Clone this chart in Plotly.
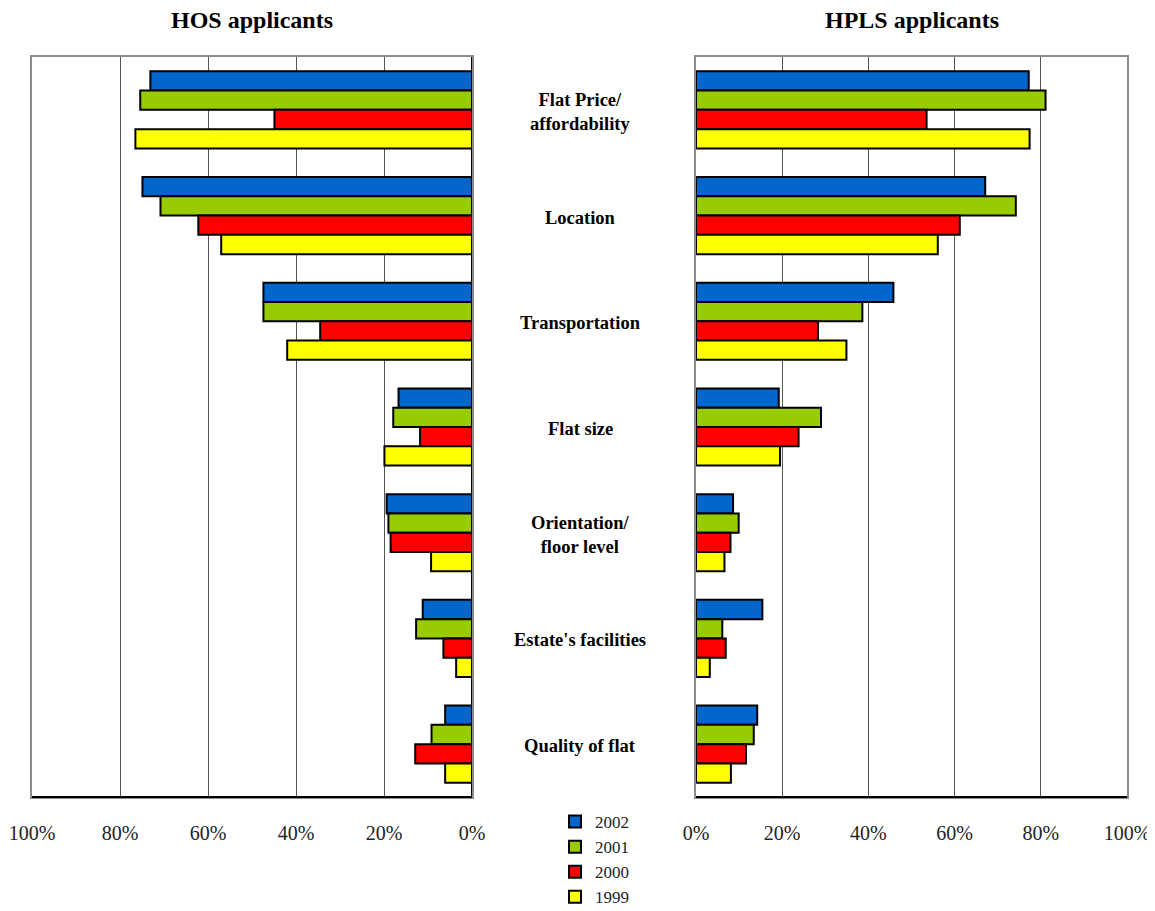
import plotly.graph_objects as go

categories = ["Flat Price/<br>affordability", "Location", "Transportation", "Flat size",
              "Orientation/<br>floor level", "Estate's facilities", "Quality of flat"]
years = ["2002", "2001", "2000", "1999"]
colors = ["#0066CC", "#99CC00", "#FF0000", "#FFFF00"]

hos_2002 = [73.1, 74.9, 47.4, 16.7, 19.4, 11.2, 6.1]
hos_2001 = [75.4, 70.8, 47.4, 17.9, 19.0, 12.7, 9.2]
hos_2000 = [44.9, 62.2, 34.5, 11.8, 18.5, 6.5, 12.9]
hos_1999 = [76.5, 57.0, 42.0, 19.9, 9.3, 3.6, 6.1]

hpls_2002 = [77.2, 67.1, 45.8, 19.2, 8.6, 15.4, 14.2]
hpls_2001 = [81.1, 74.2, 38.6, 29.0, 9.9, 6.1, 13.4]
hpls_2000 = [53.5, 61.2, 28.3, 23.8, 8.0, 6.9, 11.6]
hpls_1999 = [77.4, 56.1, 34.9, 19.5, 6.6, 3.2, 8.1]

hos = [hos_2002, hos_2001, hos_2000, hos_1999]
hpls = [hpls_2002, hpls_2001, hpls_2000, hpls_1999]

tickvals = [0, 20, 40, 60, 80, 100]
ticktext = ["0%", "20%", "40%", "60%", "80%", "100%"]

OFF = 8  # page body margin
W, H = 1155 - OFF, 911 - OFF
SERIF = "'Liberation Serif', 'Times New Roman', 'DejaVu Serif', serif"


def px(x):
    return (x - OFF) / W


def py(y):
    return 1 - (y - OFF) / H


fig = go.Figure()
for yr, col, vals in zip(years, colors, hos):
    fig.add_trace(go.Bar(y=categories, x=vals, orientation="h", name=yr,
                         marker=dict(color=col, line=dict(color="black", width=2)),
                         xaxis="x", yaxis="y", legendgroup=yr, showlegend=True))
for yr, col, vals in zip(years, colors, hpls):
    fig.add_trace(go.Bar(y=categories, x=vals, orientation="h", name=yr,
                         marker=dict(color=col, line=dict(color="black", width=2)),
                         xaxis="x2", yaxis="y2", legendgroup=yr, showlegend=False))

y_dom = [py(797), py(57)]
xl_dom = [px(32), px(472)]
xr_dom = [px(696), px(1127)]

xcommon = dict(tickvals=tickvals, ticktext=ticktext, showgrid=True, gridcolor="#555555",
               gridwidth=1, zeroline=False, showline=True, mirror=True, linecolor="#8c8c8c",
               linewidth=2, ticks="", ticklabelstandoff=17, automargin=False,
               tickfont=dict(family=SERIF, size=20, color="#222222"))
ycommon = dict(type="category", autorange="reversed", showticklabels=False, showgrid=False,
               showline=True, mirror=True, linecolor="#8c8c8c", linewidth=2, ticks="",
               zeroline=False, automargin=False)

fig.update_layout(
    width=W, height=H,
    margin=dict(l=0, r=0, t=0, b=0, autoexpand=False),
    paper_bgcolor="white", plot_bgcolor="white",
    font=dict(family=SERIF),
    barmode="group", bargap=0.27, bargroupgap=0,
    xaxis=dict(domain=xl_dom, range=[100, 0], anchor="y", **xcommon),
    yaxis=dict(domain=y_dom, anchor="x", **ycommon),
    xaxis2=dict(domain=xr_dom, range=[0, 100], anchor="y2", **xcommon),
    yaxis2=dict(domain=y_dom, anchor="x2", **ycommon),
    legend=dict(x=px(555), y=py(804), xanchor="left", yanchor="top",
                font=dict(family=SERIF, size=17, color="#222222"),
                tracegroupgap=0, itemwidth=30, bgcolor="rgba(0,0,0,0)"),
    showlegend=True,
)

# titles
for dom, t in [(xl_dom, "HOS applicants"), (xr_dom, "HPLS applicants")]:
    fig.add_annotation(text="<b>" + t + "</b>", xref="paper", yref="paper",
                       x=(dom[0] + dom[1]) / 2, y=py(20), showarrow=False,
                       xanchor="center", yanchor="middle",
                       font=dict(family=SERIF, size=24, color="black"))

# category labels in the middle
for c in categories:
    fig.add_annotation(text="<b>" + c + "</b>", xref="paper", yref="y", x=px(580), y=c,
                       showarrow=False, yshift=-2, align="center", xanchor="center",
                       font=dict(family=SERIF, size=18.5, color="black"))

# bottom axis lines in black
for xr, yr in [("x domain", "y domain"), ("x2 domain", "y2 domain")]:
    fig.add_shape(type="line", xref=xr, yref=yr, x0=0, x1=1, y0=0, y1=0,
                  line=dict(color="black", width=2))
# zero baseline of left panel
fig.add_shape(type="line", xref="x", yref="y domain", x0=0, x1=0, y0=0, y1=1,
              line=dict(color="black", width=2))

fig.write_html("out.html")
